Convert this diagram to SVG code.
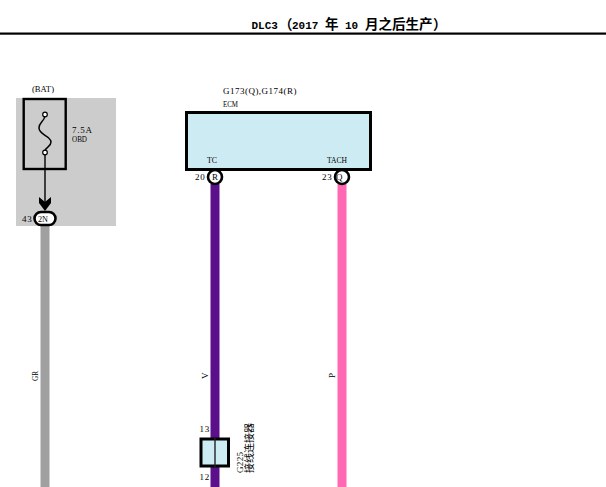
<svg xmlns="http://www.w3.org/2000/svg" width="606" height="487" viewBox="0 0 606 487">
<style>
text{font-family:"Liberation Serif","Noto Sans CJK SC",serif;font-size:9px;fill:#000}
.cjk{font-family:"Noto Sans CJK SC",sans-serif;font-size:10px}
.title{font-size:13.500px;font-weight:bold;font-family:"Noto Sans CJK SC",serif}
.lat{font-family:"Liberation Mono",monospace;font-size:11px;font-weight:bold}
.box{fill:#cdebf3;stroke:#000;stroke-width:3}
.pin{fill:#fff;stroke:#000;stroke-width:2.600}
.wire{fill:none;stroke-width:9}
</style>
<rect width="606" height="487" fill="#fff"/>
<g id="header">
<text class="title" y="29"><tspan class="lat" x="251.500">DLC3</tspan><tspan x="279">（</tspan><tspan class="lat" x="292">2017</tspan><tspan x="325">年</tspan><tspan class="lat" x="345">10</tspan><tspan x="365">月之后生产</tspan><tspan x="433">）</tspan></text>
<rect x="0" y="32.500" width="606" height="2.200" fill="#000"/>
</g>
<rect id="fuse-zone" x="16" y="98" width="100" height="128" fill="#cccccc"/>
<g id="connectors">
<path class="wire" stroke="#a0a0a0" d="M45 226V487"/>
<path class="wire" stroke="#5c0f8b" d="M215 184V487"/>
<path class="wire" stroke="#ff69b4" d="M342 184V487"/>
<path d="M45 153V203" stroke="#000" stroke-width="1.400" fill="none"/>
<path d="M39 197L45 202 51 197V203L45 211 39 203Z" fill="#000"/>
</g>
<g id="fuse">
<rect x="23.700" y="99" width="42" height="70" fill="none" stroke="#000" stroke-width="2.400"/>
<path d="M45 116C44 122 39 122 39 128C39 135 51 136 51 142C51 147 45.500 147 45 151" fill="none" stroke="#000" stroke-width="1.500"/>
<circle cx="45" cy="114.500" r="2.300" fill="#fff" stroke="#000" stroke-width="1.200"/>
<circle cx="45" cy="152.500" r="2.300" fill="#fff" stroke="#000" stroke-width="1.200"/>
<text x="32" y="92" textLength="22" lengthAdjust="spacingAndGlyphs">(BAT)</text>
<text x="72" y="133" textLength="20">7.5A</text>
<text x="72" y="142" textLength="15" lengthAdjust="spacingAndGlyphs">OBD</text>
</g>
<g id="pin-2N">
<rect x="34.500" y="212" width="21" height="13" rx="6.500" class="pin"/>
<text x="38" y="222" textLength="10" lengthAdjust="spacingAndGlyphs">2N</text>
<text x="22" y="222" textLength="9.700">43</text>
</g>
<g id="ecm">
<rect x="186.500" y="112.500" width="184" height="57" class="box"/>
<text x="223" y="94" textLength="73.500">G173(Q),G174(R)</text>
<text x="223" y="107" textLength="15" lengthAdjust="spacingAndGlyphs">ECM</text>
<text x="207" y="163" textLength="10" lengthAdjust="spacingAndGlyphs">TC</text>
<text x="327" y="163" textLength="20" lengthAdjust="spacingAndGlyphs">TACH</text>
</g>
<g id="pin-R">
<circle cx="215" cy="177" r="7" class="pin"/>
<text x="212" y="180">R</text>
<text x="195" y="180" textLength="9.700">20</text>
</g>
<g id="pin-Q">
<circle cx="342" cy="177" r="7" class="pin"/>
<text x="336" y="180">Q</text>
<text x="322" y="180" textLength="9.700">23</text>
</g>
<g id="G225">
<rect x="201" y="439" width="27.500" height="27" class="box"/>
<path d="M215 438V467" stroke="#222" stroke-width="1.400"/>
<text x="199.500" y="432" textLength="9.700">13</text>
<text x="199.500" y="480" textLength="9.700">12</text>
<text transform="translate(243 473) rotate(-90)" textLength="21">G225</text>
<text class="cjk" transform="translate(253 473) rotate(-90)">接线连接器</text>
</g>
<g id="wire-labels">
<text transform="translate(38 381) rotate(-90)" textLength="10" lengthAdjust="spacingAndGlyphs">GR</text>
<text transform="translate(208 379) rotate(-90)">V</text>
<text transform="translate(335 378) rotate(-90)">P</text>
</g>
</svg>
